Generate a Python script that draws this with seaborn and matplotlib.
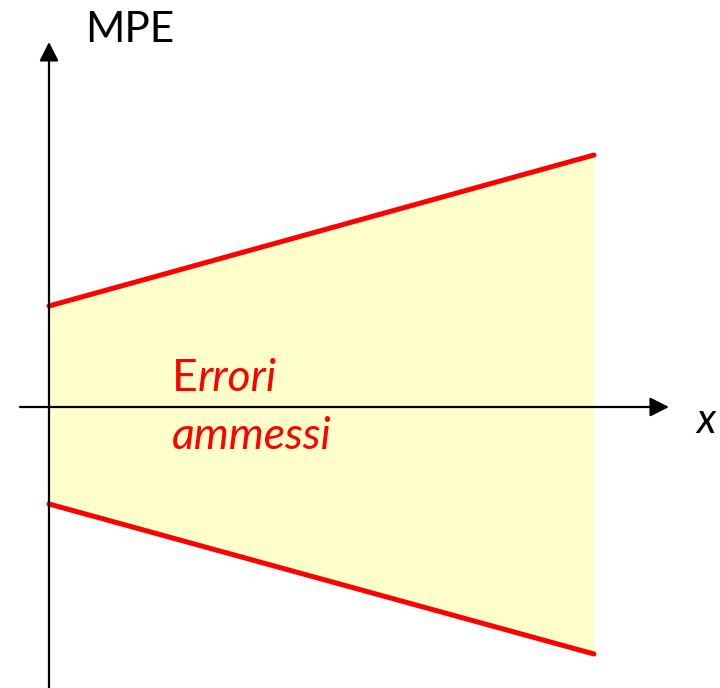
import seaborn as sns
import matplotlib.pyplot as plt
import pandas as pd
from matplotlib.patches import ArrowStyle

# MPE envelope: limits grow linearly with x
x = [0.0, 1.0]
upper = [1.01, 2.52]
lower = [-0.97, -2.47]

sns.set_style("white")
plt.rcParams['font.family'] = ['Lato', 'DejaVu Sans']

fig = plt.figure(figsize=(7.2, 6.88), dpi=100)
ax = fig.add_axes([0, 0, 1, 1])
ax.set_xlim(-0.0899, 1.2312)
ax.set_ylim(-2.81, 4.07)
ax.axis('off')

ax.fill_between(x, lower, upper, color='#FFFFCC', lw=0, zorder=1)

df = pd.DataFrame({'x': x * 2, 'y': upper + lower,
                   'lim': ['sup', 'sup', 'inf', 'inf']})
sns.lineplot(data=df, x='x', y='y', units='lim', estimator=None,
             color='#FF0000', lw=3.6, ax=ax, zorder=3, legend=False)

head = ArrowStyle('-|>', head_length=11.5, head_width=5.8)
ax.annotate('', xy=(1.1376, 0), xytext=(-0.0532, 0),
            arrowprops=dict(arrowstyle=head, color='black', lw=1.6,
                            shrinkA=0, shrinkB=0, mutation_scale=1), zorder=4)
ax.annotate('', xy=(0, 3.65), xytext=(0, -2.81),
            arrowprops=dict(arrowstyle=head, color='black', lw=1.6,
                            shrinkA=0, shrinkB=0, mutation_scale=1), zorder=4)

ax.text(0.118, 0.939, 'MPE', transform=ax.transAxes, fontsize=30.5,
        va='baseline', ha='left', color='black')
ax.text(0.994, 0.371, 'x', transform=ax.transAxes, fontsize=30,
        style='italic', va='baseline', ha='right', color='black')

# "E" upright, rest of the word italic (as in the original slide)
t_e = ax.text(0.239, 0.432, 'E', transform=ax.transAxes, fontsize=32,
              va='baseline', ha='left', color='#FF0000')
ax.annotate('rrori', xy=(1.0, 0.432), xycoords=(t_e, 'axes fraction'),
            fontsize=32, style='italic', va='baseline', ha='left',
            color='#FF0000')
ax.text(0.239, 0.347, 'ammessi', transform=ax.transAxes, fontsize=32,
        style='italic', va='baseline', ha='left', color='#FF0000')

fig.savefig('out.png', dpi=100)
